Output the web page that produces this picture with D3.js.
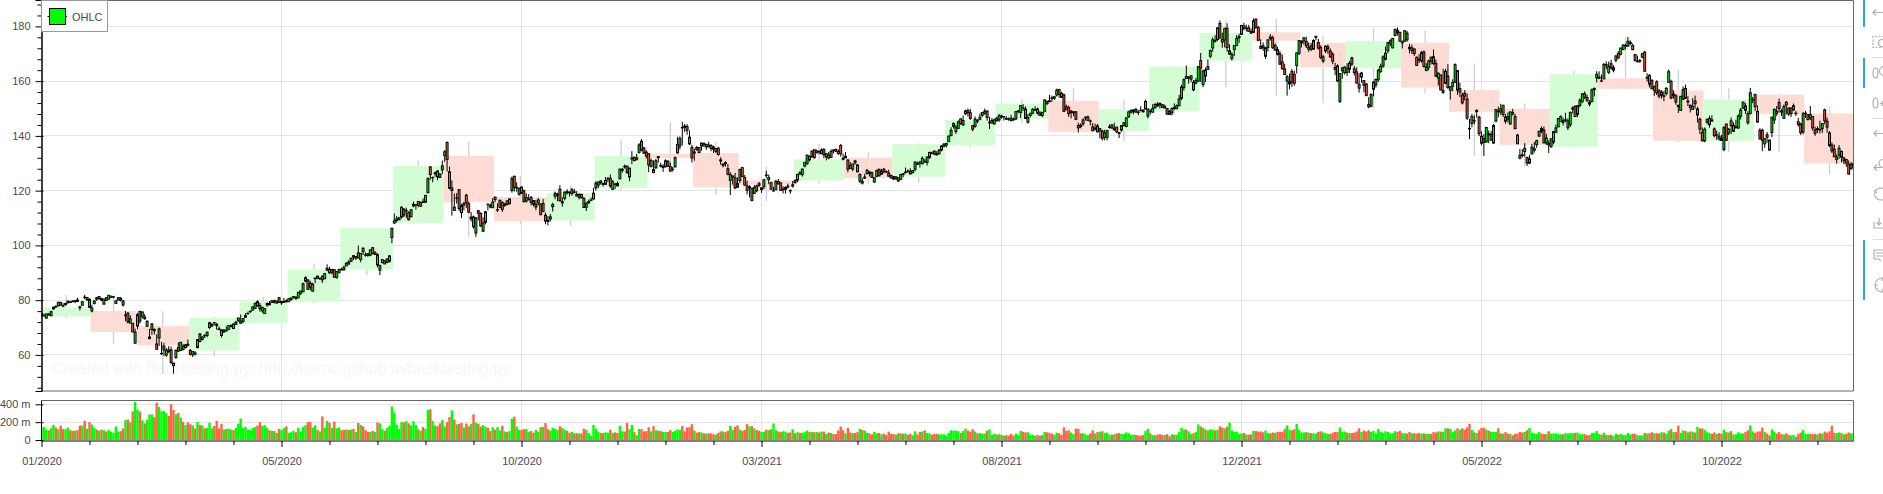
<!DOCTYPE html>
<html><head><meta charset="utf-8"><style>html,body{margin:0;padding:0;background:#fff;overflow:hidden}svg{display:block}text{font-family:"Liberation Sans",Arial,sans-serif}</style>
<script src="https://cdn.jsdelivr.net/npm/d3@7"></script></head><body><svg id="c" width="1883" height="494"></svg>
<script>
const legendLabel="OHLC";
const watermark="Created with Backtesting.py: http://kernc.github.io/backtesting.py";
const priceTicks=[60,80,100,120,140,160,180];
const volumeTicks=[0,200,400];
const dateTicks=[[0,"01/2020"],[100,"05/2020"],[200,"10/2020"],[300,"03/2021"],[400,"08/2021"],[500,"12/2021"],[600,"05/2022"],[700,"10/2022"]];
// last bar index of each period, and period open / close / high / low
const periodEnd=[20,39,61,82,102,124,146,167,188,210,230,252,271,290,313,334,354,376,397,419,440,461,482,504,524,543,566,586,607,628,648,671,692,713,734,755];
const periodOpen=[74.06,76.07,70.57,61.62,71.56,79.44,91.28,108.2,132.76,117.64,109.11,121.01,133.52,133.75,123.75,123.66,132.04,125.08,136.6,146.36,152.83,141.76,148.99,167.48,177.83,174.01,164.7,174.03,156.71,149.9,136.04,161.01,156.64,138.21,155.08,148.21];
const periodClose=[77.38,68.34,63.57,73.45,79.49,91.2,106.26,129.04,115.81,108.86,119.05,132.69,131.96,121.26,122.15,131.46,124.61,136.96,145.86,151.83,141.5,149.8,165.3,177.57,174.78,165.12,174.61,157.65,148.84,136.72,162.51,157.22,138.2,153.34,148.03,129.93];
const periodHigh=[81.9,81.9,76,73.9,81.2,93.1,106.4,131,138,125.3,122,138.6,145,137.8,128.8,137,134,137.2,150,153.4,157.3,153.2,165.5,182.2,182.8,176.7,179.5,178.5,166.4,151.8,163.7,175.9,164.2,157.3,155.4,150.8];
const periodLow=[73.4,64.2,53,59.3,71.6,79,89.1,108,103.1,107.6,107.3,120.1,126.8,118.3,116.1,122.5,122.3,123,135.8,144.5,141,138.1,147.5,157.8,154.6,152,150.1,155.4,132.7,129,135.6,157.1,137.8,134.1,134.1,125.9];
const closes=[
75.09,74.36,74.95,74.60,75.80,77.41,77.58,79.24,78.17,77.83,78.81,79.68,79.14,79.43,79.81,79.58,77.24,79.42,81.08,80.97,77.38,
77.17,79.71,80.36,81.30,80.01,80.39,79.90,81.80,81.22,81.24,79.75,80.90,80.07,78.26,74.54,72.02,73.16,68.38,68.34,
74.70,72.33,75.68,73.23,72.26,66.54,71.33,68.86,62.06,69.49,60.55,63.22,61.67,61.20,57.31,56.09,61.72,61.38,64.61,61.94,63.70,63.57,
60.23,61.23,60.35,65.62,64.86,66.52,67.00,68.31,71.76,71.11,71.67,70.70,69.23,67.09,69.03,68.76,70.74,70.79,69.64,71.93,73.45,
72.27,73.29,74.39,75.16,75.93,77.53,78.75,77.85,76.91,77.39,76.93,78.74,78.29,79.81,79.21,79.72,79.18,79.53,79.56,79.49,
80.46,80.83,81.28,80.56,82.88,83.36,86.00,88.21,83.97,84.70,85.75,88.02,87.90,87.93,87.43,89.72,91.63,90.01,91.21,88.41,90.44,91.20,
91.03,91.03,93.46,93.17,95.34,95.75,95.92,95.48,97.06,97.73,96.52,96.33,98.36,97.00,97.27,92.85,92.62,94.81,93.25,95.04,96.19,106.26,
108.94,109.67,110.06,113.90,111.11,112.73,109.38,113.01,115.01,114.91,114.61,115.56,115.71,118.28,124.37,125.86,124.83,126.52,125.01,124.81,129.04,
134.18,131.40,120.88,120.96,112.82,117.32,113.49,112.00,115.36,115.54,112.13,110.34,106.84,110.08,111.81,107.12,108.22,112.28,114.96,114.09,115.81,
116.79,113.02,116.50,113.16,115.08,114.97,116.97,124.40,121.10,121.19,120.71,119.02,115.98,117.51,116.87,115.75,115.04,115.05,116.60,111.20,115.32,108.86,
108.77,110.44,114.95,119.03,118.69,116.32,115.97,119.49,119.21,119.26,120.30,119.39,118.03,118.64,117.34,113.85,115.17,116.03,116.59,119.05,
122.72,123.08,122.94,122.25,123.75,124.38,121.78,123.24,122.41,121.78,127.88,127.81,128.70,126.66,128.23,131.88,130.96,131.97,136.69,134.87,133.72,132.69,
129.41,131.01,126.60,130.92,132.05,128.98,128.80,130.89,128.91,127.14,127.83,132.03,136.87,139.07,142.92,143.16,142.06,137.09,131.96,
134.14,134.99,133.94,137.39,136.76,136.91,136.01,135.39,135.13,135.37,133.19,130.84,129.71,129.87,126.00,125.86,125.35,120.99,121.26,
127.79,125.12,122.06,120.13,121.42,116.36,121.09,119.98,121.96,121.03,123.99,125.57,124.76,120.53,119.99,123.39,122.54,120.09,120.59,121.21,121.39,119.90,122.15,
123.00,125.90,126.21,127.90,130.36,133.00,131.24,134.43,132.03,134.50,134.16,134.84,133.11,133.50,131.94,134.32,134.72,134.39,133.58,133.48,131.46,
132.54,127.85,128.10,129.74,130.21,126.85,125.91,122.77,124.97,127.45,126.27,124.85,124.69,127.31,125.43,127.10,126.90,126.85,125.28,124.61,
124.28,125.06,123.54,125.89,125.90,126.74,127.13,126.11,127.35,130.48,129.64,130.15,131.79,130.46,132.30,133.98,133.70,133.41,133.11,134.78,136.33,136.96,
137.27,139.96,142.02,144.57,143.24,145.11,144.50,145.64,149.15,148.48,146.39,142.45,146.15,145.40,146.80,148.56,148.99,146.77,144.98,145.64,145.86,
145.52,147.36,146.95,147.06,146.14,146.09,145.60,145.86,148.89,149.10,151.12,150.19,146.36,146.70,148.19,149.71,149.62,148.36,147.54,148.60,153.12,151.83,
152.51,153.65,154.30,156.69,155.11,154.07,148.97,149.55,148.12,149.03,148.79,146.06,142.94,143.43,145.85,146.83,146.92,145.37,141.91,142.83,141.50,
142.65,139.14,141.11,142.00,143.29,142.90,142.81,141.51,140.91,143.76,144.84,146.55,148.76,149.26,149.48,148.69,148.64,149.32,148.85,152.57,149.80,
148.96,150.02,151.49,150.96,151.28,150.44,150.81,147.92,147.87,149.99,150.00,151.00,153.49,157.87,160.55,161.02,161.41,161.94,156.81,160.24,165.30,
164.77,163.76,161.84,165.32,171.18,175.08,174.56,179.45,175.74,174.33,179.30,172.26,171.14,169.75,172.99,175.64,176.28,180.33,179.29,179.38,178.20,177.57,
182.01,179.70,174.92,172.00,172.17,172.19,175.08,175.53,172.19,173.07,169.80,166.23,164.51,162.41,161.62,159.78,159.69,159.22,170.33,174.78,
174.61,175.84,172.90,172.39,171.66,174.83,176.28,172.12,168.64,168.88,172.79,172.55,168.88,167.30,164.32,160.07,162.74,164.85,165.12,
163.20,166.56,166.23,163.17,159.30,157.44,162.95,158.52,154.73,150.62,155.09,159.59,160.62,163.98,165.38,168.82,170.21,174.07,174.72,175.60,178.96,177.77,174.61,
174.31,178.44,175.06,171.83,172.14,170.09,165.75,167.66,170.40,165.29,165.07,167.40,167.23,166.42,161.79,162.88,156.80,156.57,163.64,157.65,
157.96,159.48,166.02,156.77,157.28,152.06,154.51,146.50,142.56,147.11,145.54,149.24,140.82,137.35,137.59,143.11,140.36,140.52,143.78,149.64,148.84,
148.71,151.21,145.38,146.14,148.71,147.96,142.64,137.13,131.88,132.76,135.43,130.06,131.56,135.87,135.35,138.27,141.66,141.66,137.44,139.23,136.72,
138.93,141.56,142.92,146.35,147.04,144.87,145.86,145.49,148.47,150.17,147.07,151.00,153.04,155.35,154.09,152.95,151.60,156.79,157.35,162.51,
161.51,160.01,166.13,165.81,165.35,164.87,164.92,169.24,168.49,172.10,173.19,173.03,174.55,174.15,171.52,167.57,167.23,167.53,170.03,163.62,161.38,158.91,157.22,
157.96,155.81,154.53,155.96,154.46,157.37,163.43,153.84,155.31,152.37,150.70,154.48,156.90,153.72,152.74,150.43,150.77,151.76,149.84,142.48,138.20,
142.45,146.10,146.40,145.43,140.09,140.42,138.98,138.34,142.99,138.38,142.41,143.75,143.86,143.39,147.27,149.45,152.34,149.35,144.80,155.74,153.34,
150.65,145.03,138.88,138.38,138.92,139.50,134.87,146.87,149.70,148.28,150.04,148.79,150.72,151.29,148.01,150.18,151.07,148.11,144.22,141.17,148.03,
148.31,147.81,146.63,142.91,140.94,142.65,142.16,144.49,145.47,143.21,136.50,134.51,132.37,132.30,135.45,132.23,131.86,130.03,126.04,129.61,129.93];
const opens=[
74.06,74.29,73.45,74.96,74.29,76.81,77.65,77.91,79.18,77.96,78.40,79.07,79.30,79.64,79.48,80.06,77.51,78.15,81.11,80.14,80.23,
76.07,78.83,80.88,80.64,80.59,78.54,80.90,80.37,81.05,81.18,78.84,80.00,80.66,79.65,74.32,75.24,71.63,71.56,64.32,
70.57,75.92,74.11,73.88,70.50,65.94,69.29,69.35,63.99,66.22,60.49,61.88,59.94,61.85,61.79,57.02,59.09,62.69,61.63,63.19,62.69,63.90,
61.62,60.09,60.70,62.72,67.70,65.68,67.18,67.08,70.00,70.60,71.85,71.17,69.49,69.07,68.40,68.97,69.30,70.45,71.27,71.18,72.49,
71.56,72.29,73.76,75.11,75.81,76.41,77.02,79.46,78.04,76.13,75.09,78.29,78.76,79.17,79.67,78.94,80.88,79.04,79.19,79.81,
79.44,80.19,81.17,81.10,80.84,82.56,83.04,86.97,87.33,86.18,83.31,87.86,88.79,87.85,88.66,87.83,91.00,91.25,90.18,91.10,88.31,90.02,
91.28,91.96,92.50,93.85,94.18,96.26,95.34,97.27,94.84,98.99,96.56,96.99,96.42,99.17,96.69,96.60,90.99,93.71,94.37,93.75,94.19,102.89,
108.20,109.13,109.38,110.41,113.21,112.60,111.97,110.50,114.43,114.83,116.06,114.35,115.98,115.75,119.26,128.70,124.70,126.18,127.14,126.01,127.58,
132.76,137.59,126.91,120.07,113.95,117.26,120.36,114.57,114.72,118.33,115.23,109.72,110.40,104.54,112.68,111.62,105.17,108.43,115.01,114.55,113.79,
117.64,112.89,113.91,115.70,114.62,116.25,115.28,120.06,125.27,121.00,118.72,121.28,119.96,116.20,116.67,117.45,116.39,114.01,115.49,115.05,112.37,111.06,
109.11,109.66,114.14,117.95,118.32,120.50,115.55,117.19,119.62,119.44,118.92,119.55,118.61,117.59,118.64,117.18,113.91,115.55,116.57,116.97,
121.01,122.02,123.52,122.60,122.31,124.37,124.53,120.50,122.43,122.60,124.34,127.41,128.90,128.96,125.02,131.61,132.16,131.32,133.99,138.05,135.58,134.08,
133.52,128.89,127.72,128.36,132.43,129.19,128.50,128.76,130.80,128.78,127.78,128.66,133.80,136.28,143.07,143.60,143.43,139.52,135.83,
133.75,135.73,135.76,136.30,137.35,136.03,136.62,136.48,135.90,134.35,135.49,131.25,129.20,130.24,128.01,123.76,124.94,124.68,122.59,
123.75,128.41,124.81,121.75,120.98,120.93,119.03,121.69,122.54,120.40,121.41,125.70,124.05,122.88,119.90,120.33,123.33,122.82,120.35,120.51,121.65,120.11,121.65,
123.66,123.87,126.50,125.83,128.95,129.80,132.52,132.44,134.94,133.82,134.30,133.51,135.02,132.36,133.04,132.16,134.83,135.01,134.31,136.47,131.78,
132.04,131.19,129.20,127.89,130.85,129.41,123.50,123.40,124.58,126.25,126.82,126.56,123.16,125.23,127.82,126.01,127.82,126.96,126.44,125.57,
125.08,124.28,124.68,124.07,126.17,126.60,127.21,127.02,126.53,127.82,129.94,130.37,129.80,130.71,130.30,132.13,133.77,134.45,133.46,133.41,134.80,136.17,
136.60,137.90,140.07,143.54,141.58,142.75,146.21,144.03,148.10,149.24,148.46,143.75,143.46,145.53,145.94,147.55,148.27,149.12,144.81,144.69,144.38,
146.36,145.81,147.27,146.98,146.35,146.20,146.44,146.05,146.19,148.97,148.54,150.23,149.80,145.03,147.44,148.31,149.45,149.81,148.35,147.48,149.00,152.66,
152.83,153.87,153.76,154.97,156.98,155.49,155.00,150.63,150.35,148.56,148.44,148.82,143.80,143.93,144.45,146.65,145.66,145.47,143.25,142.47,143.66,
141.90,141.76,139.49,139.47,143.06,144.03,142.27,143.23,141.24,142.11,143.77,143.45,147.01,148.70,148.81,149.69,148.68,149.33,149.36,149.82,147.22,
148.99,148.66,150.39,151.58,151.89,151.41,150.20,150.02,148.96,148.43,150.37,149.94,151.00,153.71,157.65,161.68,161.12,160.75,159.57,159.37,159.99,
167.48,158.74,164.02,164.29,169.08,172.13,174.91,175.21,181.12,175.25,175.11,179.28,169.93,168.28,171.56,173.04,175.85,177.09,180.16,179.33,179.47,178.09,
177.83,182.63,179.61,172.70,172.89,169.08,172.32,176.12,175.78,171.34,171.51,170.00,166.98,164.42,160.02,158.98,163.50,162.45,165.71,170.16,
174.01,174.75,174.48,171.68,172.86,171.73,176.05,174.14,172.33,167.37,170.97,171.85,171.03,169.82,164.98,165.54,152.58,163.84,163.06,
164.70,164.39,168.47,164.49,163.36,158.82,161.48,160.20,158.93,151.45,150.90,157.05,158.61,160.51,163.51,165.51,167.99,171.06,173.88,172.17,176.69,178.55,177.84,
174.03,174.57,177.50,172.36,171.16,171.78,168.71,168.02,167.39,170.62,163.92,165.02,168.76,168.91,166.46,161.12,162.25,155.91,159.25,161.84,
156.71,158.15,159.67,163.85,156.01,154.93,155.52,153.50,142.77,144.59,145.55,148.86,146.85,139.88,139.09,137.79,140.81,138.43,137.39,145.39,149.07,
149.90,147.83,146.90,147.03,144.35,148.58,147.08,140.28,132.87,133.13,134.29,132.08,130.07,133.42,134.79,136.82,139.90,142.70,142.13,137.46,137.25,
136.04,137.77,141.35,143.29,145.26,145.67,145.76,142.99,144.08,149.78,150.74,147.92,151.12,152.58,155.39,154.01,152.26,152.58,156.98,161.24,
161.01,160.10,160.84,166.01,163.21,166.37,164.02,167.68,170.06,169.82,171.52,172.78,172.77,173.75,173.03,169.69,167.08,167.32,168.78,170.57,161.15,162.13,160.31,
156.64,159.75,156.47,154.82,154.64,155.47,159.59,159.90,154.79,154.65,151.21,149.31,153.40,157.34,152.38,151.19,149.66,152.74,147.64,146.10,141.28,
138.21,145.03,144.07,145.81,142.54,140.42,139.90,139.13,134.99,144.31,141.07,145.49,141.69,143.02,142.87,147.19,150.09,150.96,148.07,148.20,153.16,
155.08,148.95,142.06,142.09,137.11,140.41,138.50,141.24,145.82,148.97,152.22,149.13,146.43,152.31,150.16,148.13,149.45,148.31,145.14,144.29,141.40,
148.21,145.96,147.77,147.07,142.19,142.36,142.34,142.70,149.50,145.35,141.11,136.69,135.11,131.39,132.98,134.35,130.92,131.38,129.67,127.99,128.41];
const highs=[
75.15,75.14,74.99,75.22,76.11,77.61,78.17,79.27,79.39,78.88,78.93,79.68,79.75,80.00,79.89,80.85,77.94,79.60,81.96,81.02,80.67,
78.37,79.91,81.19,81.31,80.85,80.39,80.98,81.81,81.81,81.50,79.94,81.14,81.16,80.11,76.04,75.63,74.47,70.50,69.60,
75.36,76.00,75.85,74.89,72.71,69.52,71.61,69.58,67.52,69.98,64.77,64.40,62.50,63.21,63.01,57.13,61.92,64.56,64.67,63.97,63.88,65.62,
62.18,61.29,61.43,65.78,67.93,66.84,67.52,68.43,72.06,71.58,71.74,71.74,70.42,69.31,69.47,70.44,70.75,71.14,71.46,72.42,73.63,
74.75,73.42,75.25,75.81,76.29,77.59,79.26,79.92,78.99,77.45,76.97,79.13,79.63,79.88,80.22,79.81,81.06,79.68,80.86,80.29,
80.59,80.86,81.55,81.40,82.94,83.40,86.40,88.69,87.76,87.07,86.42,88.30,88.85,88.36,89.14,89.86,93.10,92.20,91.25,91.33,90.54,91.50,
91.84,92.62,93.95,94.66,95.38,96.32,95.98,99.96,97.26,99.25,97.41,97.15,98.50,99.25,97.97,97.08,92.97,94.91,94.55,95.23,96.30,106.42,
111.64,110.79,110.39,114.41,113.68,113.78,112.48,113.28,116.04,115.00,116.09,116.00,117.16,118.39,124.87,128.79,125.18,126.99,127.49,126.44,131.00,
134.80,137.98,128.84,123.70,118.99,119.14,120.50,115.23,115.93,118.83,116.00,112.20,110.88,110.19,112.86,112.11,110.25,112.44,115.32,115.31,117.26,
117.72,115.37,116.65,116.12,115.55,116.40,117.00,125.18,125.39,123.03,121.20,121.55,120.42,118.98,118.71,118.04,116.55,116.55,117.28,115.43,116.93,111.99,
110.68,111.49,115.59,119.62,119.20,121.99,117.59,119.63,120.53,119.67,120.99,120.67,119.82,119.06,118.77,117.62,115.85,116.75,117.49,120.97,
123.47,123.37,123.78,122.86,124.98,124.98,125.95,123.87,122.76,123.35,127.90,128.37,129.58,129.10,128.31,134.41,132.43,133.46,137.34,138.79,135.99,134.74,
133.61,131.74,131.05,131.63,132.63,130.17,129.69,131.45,131.00,130.22,128.71,132.49,139.67,139.85,145.09,144.30,144.30,141.99,136.74,
135.38,136.31,135.77,137.40,137.42,136.96,137.88,136.99,136.39,135.53,136.01,132.22,130.00,130.71,129.72,126.71,125.56,126.46,124.85,
127.93,128.72,125.71,123.60,121.94,121.00,122.06,122.17,123.21,121.17,124.00,127.22,125.86,123.18,121.43,123.87,124.24,122.90,121.66,121.48,122.58,120.40,123.52,
124.18,126.16,127.13,127.92,130.39,133.04,132.85,134.66,135.00,135.00,134.67,135.47,135.53,133.75,134.15,135.12,135.06,135.41,135.02,137.07,133.56,
134.07,131.49,130.45,129.75,131.26,129.54,126.27,124.64,126.15,127.89,126.93,126.99,124.92,127.72,128.00,127.94,128.32,127.39,127.64,125.80,
125.35,125.24,124.85,126.16,126.32,128.46,127.75,128.19,127.44,130.54,130.60,130.89,132.55,131.51,132.41,134.08,134.32,134.64,134.43,135.25,136.49,137.41,
137.33,140.00,143.15,144.89,144.06,145.65,146.32,147.46,149.57,150.00,149.76,144.07,147.10,146.13,148.20,148.72,150.00,149.21,146.97,146.55,146.33,
146.95,148.04,147.79,147.11,147.11,146.70,147.71,146.72,149.05,149.44,151.19,151.68,150.72,148.00,148.50,150.19,150.86,150.32,149.12,148.75,153.49,152.80,
154.98,154.72,154.63,157.26,157.04,156.11,155.48,151.42,151.07,149.44,148.97,148.82,144.84,144.60,146.43,147.08,147.47,145.96,144.75,144.45,144.38,
142.92,142.21,142.24,142.15,144.22,144.18,144.81,143.25,141.40,143.88,144.90,146.84,149.17,149.75,149.64,150.18,149.37,150.84,149.73,153.17,149.94,
149.70,151.57,151.97,152.43,152.20,151.57,151.43,150.13,149.43,150.40,151.88,151.49,155.00,158.67,161.02,165.70,161.80,162.14,160.45,161.19,165.52,
170.30,164.20,164.96,167.88,171.58,175.96,176.75,179.63,182.13,177.74,179.50,181.14,173.47,170.58,173.20,176.85,177.30,180.42,181.33,180.63,180.57,179.23,
182.88,182.94,180.17,175.30,174.14,172.50,175.18,177.18,176.62,173.78,172.54,171.08,169.68,166.33,162.30,162.76,164.39,163.84,170.35,175.00,
174.84,175.88,176.24,174.10,173.95,175.35,176.65,175.48,173.08,169.58,172.95,173.34,171.91,170.54,166.69,166.15,162.85,165.12,165.42,
166.60,167.36,168.91,165.55,165.02,162.88,163.41,160.39,159.28,154.12,155.57,160.00,161.00,164.48,166.35,169.42,172.64,174.14,175.28,175.73,179.01,179.61,178.03,
174.88,178.49,178.30,173.63,173.36,171.78,169.03,169.87,171.04,171.27,166.60,167.82,168.88,171.53,167.88,163.17,162.34,164.52,164.52,166.20,
158.23,160.71,166.48,164.08,159.44,155.83,156.74,155.45,146.20,148.10,147.52,149.77,147.36,141.66,140.70,143.26,141.97,141.78,144.34,149.68,150.66,
151.74,151.27,147.97,148.57,149.00,149.87,147.95,140.76,135.20,135.20,137.34,132.39,133.08,137.06,137.76,138.59,141.91,143.49,143.42,140.67,138.37,
139.04,141.61,144.12,146.55,147.55,146.64,148.45,146.45,148.95,150.86,151.23,151.23,153.72,155.57,156.28,155.04,153.09,157.33,157.64,163.63,
163.59,162.41,166.59,167.19,167.19,167.81,165.82,169.34,170.99,172.17,173.39,173.71,176.15,174.90,173.74,169.86,169.34,168.11,170.14,171.05,162.90,162.56,160.58,
158.42,160.36,157.09,156.67,156.36,157.82,164.26,160.54,156.67,155.24,151.35,154.56,158.08,158.74,154.47,151.47,153.77,154.72,150.64,146.72,143.10,
143.07,146.22,147.38,147.54,143.10,141.89,141.35,140.36,143.59,144.52,142.90,146.70,144.95,145.89,147.85,150.23,152.49,151.99,149.05,157.50,154.24,
155.45,151.11,142.80,142.67,139.15,141.43,138.55,146.87,150.01,150.92,153.59,149.87,151.48,152.70,150.37,150.42,151.83,149.13,146.64,144.81,148.72,
149.13,148.00,150.92,147.30,143.37,143.52,145.57,144.50,149.97,146.66,141.79,137.65,136.81,133.25,136.63,134.56,132.42,131.41,131.03,130.48,129.95];
const lows=[
73.80,74.13,73.19,74.37,74.29,76.55,77.06,77.79,78.04,77.39,78.02,78.75,79.00,79.33,78.91,79.27,76.22,78.05,80.35,79.69,77.07,
75.56,78.41,79.74,80.07,79.60,78.46,79.85,80.37,80.84,80.71,78.65,80.00,79.55,77.63,72.31,71.53,71.63,68.24,64.09,
69.43,71.45,73.28,72.85,70.31,65.75,67.34,67.43,62.00,63.24,60.00,59.60,59.28,60.65,56.58,53.15,58.57,61.08,61.59,61.76,62.35,63.00,
59.78,59.22,59.74,62.35,64.75,65.31,66.18,66.46,69.51,70.16,70.78,69.21,69.21,66.36,68.05,68.75,69.25,69.99,69.55,70.97,72.09,
71.46,71.58,73.61,74.72,75.32,76.07,76.81,77.73,75.80,75.38,75.05,77.58,78.25,79.13,78.84,78.84,79.13,78.27,79.12,79.12,
79.30,79.73,80.58,80.19,80.81,81.83,83.00,86.52,83.87,83.56,83.15,86.18,87.77,87.39,86.29,87.79,90.57,89.63,89.39,88.25,87.82,90.00,
90.98,90.91,92.47,93.06,94.09,94.67,94.71,95.26,93.88,96.49,95.91,95.84,96.06,96.74,96.60,92.01,89.14,93.48,93.25,93.71,93.77,100.82,
107.89,108.39,109.25,109.80,110.29,110.00,109.11,110.30,113.93,113.05,113.96,114.01,115.61,115.73,119.25,123.94,123.05,125.08,123.83,124.58,126.00,
130.53,127.00,120.50,110.89,112.68,115.26,112.50,110.00,112.80,113.61,112.04,108.71,106.09,103.10,109.16,106.77,105.00,107.67,112.78,113.57,113.62,
115.83,112.22,113.55,112.25,114.13,114.59,114.92,119.28,119.65,119.62,118.15,118.81,115.66,115.63,116.45,114.59,114.28,112.88,114.54,111.10,112.20,107.72,
107.32,108.73,112.35,116.87,116.13,116.05,114.13,116.44,118.57,117.87,118.15,118.96,118.00,116.81,117.29,113.75,112.59,115.17,116.22,116.81,
120.01,120.89,122.21,121.52,122.25,123.09,121.00,120.15,120.55,121.54,124.13,126.56,128.04,126.12,123.45,129.65,130.78,131.10,133.51,134.34,133.40,131.72,
126.76,128.43,126.38,127.86,130.23,128.50,126.86,128.49,128.76,127.00,126.94,128.55,133.59,135.02,136.54,141.37,140.41,136.70,130.21,
130.93,134.61,133.61,134.59,135.86,134.92,135.85,134.40,133.77,133.69,132.79,129.47,128.49,128.80,125.60,118.39,122.23,120.54,121.20,
122.79,125.01,121.84,118.62,117.57,116.21,118.79,119.45,121.26,119.16,120.42,124.72,122.34,120.32,119.68,120.26,122.14,120.07,119.00,118.92,120.73,118.86,121.15,
122.49,123.07,125.65,125.14,128.52,129.47,130.63,131.93,131.66,133.64,133.28,133.34,131.81,131.07,131.41,131.93,133.56,134.11,133.08,132.45,131.07,
131.83,126.70,127.97,127.13,129.48,126.81,122.77,122.25,124.26,125.85,125.17,124.78,122.86,125.10,125.21,125.94,126.32,126.42,125.08,124.55,
123.94,124.05,123.13,123.85,124.83,126.21,126.52,125.94,126.42,127.07,129.39,128.46,129.65,130.24,129.21,131.62,133.23,132.93,132.81,133.35,134.35,135.87,
135.76,137.75,140.07,142.66,140.66,142.65,144.00,143.63,147.68,147.09,145.88,141.67,142.96,144.63,145.81,146.92,147.70,145.55,142.54,144.58,144.11,
145.25,145.18,146.28,145.63,145.81,145.52,145.30,145.53,145.84,148.27,146.47,149.09,146.15,144.50,146.78,147.89,149.15,147.80,147.51,146.83,148.61,151.29,
152.34,152.40,153.09,154.39,153.98,153.95,148.70,150.06,146.91,146.37,147.22,145.76,141.27,142.78,143.70,145.64,145.56,143.82,141.69,142.03,141.28,
139.11,138.27,138.36,138.37,142.72,142.56,141.81,141.04,139.20,141.51,143.51,143.16,146.55,148.12,147.87,148.64,147.62,149.01,148.49,149.72,146.41,
147.80,148.65,149.82,150.64,150.06,150.16,150.06,147.85,147.68,147.48,149.43,149.78,150.99,153.05,156.53,161.00,159.06,159.64,156.36,158.79,159.92,
159.72,157.80,159.72,164.28,168.34,170.70,174.10,174.69,175.53,172.21,172.31,170.75,169.69,167.46,169.12,172.75,173.98,177.07,178.53,178.14,178.09,177.26,
177.71,179.12,174.64,171.64,171.03,168.17,170.82,174.82,171.79,171.09,169.41,165.94,164.18,162.30,154.70,157.02,157.82,158.28,162.80,169.51,
172.31,173.33,172.12,170.68,170.95,171.43,174.90,171.55,168.04,166.56,170.25,170.05,168.47,166.19,162.15,159.75,152.00,160.87,162.43,
161.97,162.95,165.55,162.10,159.04,155.80,159.41,155.98,154.50,150.10,150.38,154.46,157.63,159.76,163.01,164.91,167.65,170.21,172.75,172.00,176.34,176.70,174.40,
171.94,174.44,174.42,170.13,169.85,169.20,165.50,166.64,166.77,165.04,163.57,163.92,166.10,165.91,161.50,158.46,156.72,155.38,158.93,157.25,
153.27,156.32,159.26,154.95,154.18,151.49,152.93,145.81,138.80,143.11,144.18,146.68,139.90,136.60,132.61,137.65,137.33,138.34,137.14,145.26,146.84,
147.68,146.86,144.46,144.90,144.10,147.46,142.53,137.06,131.44,132.16,132.41,129.04,129.81,133.32,133.91,135.63,139.77,140.97,137.32,136.67,133.77,
135.66,136.93,141.08,143.28,145.00,143.78,145.05,142.12,143.25,148.20,146.91,146.91,150.37,151.94,153.41,152.28,150.80,152.16,154.41,159.50,
160.89,159.63,160.75,164.43,162.56,164.20,163.25,166.90,168.19,169.40,171.35,171.66,172.57,173.12,171.31,167.14,166.90,166.65,168.35,163.56,159.82,157.72,157.14,
154.67,154.97,153.69,153.61,152.68,154.75,159.30,153.37,153.61,151.38,148.37,149.10,153.08,153.60,150.91,148.56,149.64,149.95,144.84,140.68,138.00,
137.69,144.26,143.01,145.22,139.45,138.57,138.22,138.16,134.37,138.19,140.27,140.61,141.50,142.65,142.65,146.00,150.10,148.04,144.13,147.82,151.92,
149.13,145.03,138.75,134.38,135.67,137.49,134.59,139.50,144.37,147.24,148.56,147.29,146.15,147.80,147.24,146.93,149.34,147.33,143.38,140.35,140.55,
146.61,145.65,145.77,141.92,140.01,141.10,140.90,141.06,144.24,141.16,135.91,133.73,132.42,129.89,131.59,130.30,129.64,128.72,125.87,127.73,127.43];
const volumes=[
135,146,118,108,132,170,140,121,161,122,121,138,110,102,105,110,161,162,216,127,200,
173,136,118,105,117,110,94,113,94,80,152,94,100,129,223,230,198,320,426,
341,319,220,187,226,286,285,256,418,370,322,324,300,271,401,336,287,303,252,205,167,197,
176,165,129,201,168,162,131,133,194,131,157,215,131,180,117,125,126,117,112,137,183,
241,134,147,116,115,134,145,163,200,158,166,136,111,102,102,81,125,112,133,153,
81,87,104,87,137,95,147,166,201,200,138,165,114,96,264,136,213,192,137,205,131,140,
110,114,118,112,117,125,90,191,170,153,110,92,90,103,89,197,186,121,104,133,158,375,
308,173,121,202,198,212,187,165,210,165,119,105,145,126,338,345,211,163,155,187,225,
152,200,257,332,231,176,180,191,140,184,154,178,287,195,183,150,167,149,137,99,142,
116,144,106,161,96,88,100,240,262,151,112,115,121,124,89,101,82,111,92,143,146,190,
122,107,138,126,114,154,138,112,103,81,91,74,76,74,73,127,113,76,46,169,
127,89,79,78,86,82,115,81,86,79,157,98,94,192,121,169,88,54,124,121,96,99,
143,97,155,109,105,100,91,88,90,111,90,104,120,114,157,98,141,143,177,
106,83,89,84,75,71,76,73,64,60,80,98,96,87,103,158,111,149,164,
116,103,112,178,153,155,129,111,103,88,92,115,111,121,185,111,95,88,98,94,80,85,118,
75,88,80,83,88,106,91,91,87,89,84,94,94,68,84,78,66,66,107,151,110,
75,137,84,78,78,88,126,112,105,81,74,63,92,76,79,63,72,56,94,71,
67,59,76,75,71,74,56,71,53,97,62,91,96,108,79,74,60,68,70,62,64,63,
52,78,108,104,106,99,77,100,127,106,94,121,96,74,77,71,72,105,118,56,70,
62,64,56,46,54,48,69,48,72,59,103,92,86,86,60,60,48,58,48,56,90,86,
80,71,57,82,75,57,141,102,109,84,68,129,124,75,76,64,53,74,108,74,89,
94,98,80,83,61,58,65,73,78,68,67,85,76,58,61,58,51,50,56,100,124,
74,54,54,60,66,55,56,65,41,63,59,59,88,137,117,117,96,69,76,88,174,
152,137,118,107,120,117,108,115,153,139,131,150,195,107,92,93,69,74,79,62,59,64,
104,99,95,96,86,106,77,74,84,81,92,91,91,122,163,115,108,121,179,115,
86,84,89,82,77,74,71,90,98,86,77,67,69,82,91,90,141,91,95,
83,79,76,83,96,131,91,105,96,108,92,102,75,123,95,81,98,90,74,77,100,92,103,
78,77,73,89,77,76,72,79,70,75,69,67,67,88,85,96,95,88,131,131,
123,88,108,131,116,131,116,142,182,113,86,78,109,136,137,117,104,92,90,90,131,
74,72,88,71,67,53,70,71,91,84,91,109,134,82,73,72,89,71,67,66,98,
71,73,74,66,65,64,77,71,78,76,81,82,64,65,66,53,55,78,82,101,
67,59,82,55,57,60,44,70,58,68,55,56,79,62,70,70,53,51,51,78,73,77,87,
74,77,73,87,84,68,105,122,88,91,162,81,107,101,86,96,93,84,147,129,129,
114,87,79,68,85,67,77,71,113,88,85,99,61,64,86,75,74,88,109,164,97,
80,93,97,140,90,73,52,118,93,73,89,65,62,74,58,51,58,35,69,83,111,
71,65,69,64,69,62,76,70,94,82,98,160,79,77,85,77,63,69,85,75,77];

[opens,highs,lows,closes,volumes].forEach((a,i)=>{if(a.length!==756)throw new Error("array "+i+" has "+a.length)});
const bars=d3.range(756).map(i=>({i,o:opens[i],h:highs[i],l:lows[i],c:closes[i],v:volumes[i]}));
const periods=periodEnd.map((e,k)=>({a:k?periodEnd[k-1]+.5:0,b:e+.5,o:periodOpen[k],c:periodClose[k],h:periodHigh[k],l:periodLow[k]}));

const L=41.5,R=1853.5,T=.5,B=391,VT=400.5,VB=441;
const BULL="#00ff00",BEAR="#ff6347",TXT="#4a4a4a",GRID="#e5e5e5",FRAME="#666";
const svg=d3.select("#c");
const x=d3.scaleLinear().domain([0,755]).range([L,R]);
const y=d3.scaleLinear().domain([46.82,189.64]).range([391,0]);
const vy=d3.scaleLinear().domain([0,400]).range([440,404.3]);
const bw=x(1)-x(0);
const snap=v=>Math.floor(v)+.5;

const defs=svg.append("defs");
defs.append("clipPath").attr("id","pm").append("rect").attr("x",L).attr("y",T).attr("width",R-L).attr("height",B-T);
defs.append("clipPath").attr("id","pv").append("rect").attr("x",L).attr("y",VT).attr("width",R-L).attr("height",VB-VT);

// grids
const g=svg.append("g").attr("stroke",GRID).attr("stroke-width",1);
g.selectAll(".gy").data(priceTicks).join("line").attr("x1",L).attr("x2",R).attr("y1",d=>snap(y(d))).attr("y2",d=>snap(y(d)));
g.selectAll(".gv").data(volumeTicks.slice(1)).join("line").attr("x1",L).attr("x2",R).attr("y1",d=>snap(vy(d))).attr("y2",d=>snap(vy(d)));
g.selectAll(".gx").data(dateTicks.slice(1)).join("line").attr("x1",d=>x(d[0])).attr("x2",d=>x(d[0])).attr("y1",T).attr("y2",B);
g.selectAll(".gx2").data(dateTicks.slice(1)).join("line").attr("x1",d=>x(d[0])).attr("x2",d=>x(d[0])).attr("y1",VT).attr("y2",VB);

// watermark
svg.append("text").attr("x",52).attr("y",374).attr("font-size",16).attr("fill","#f6f6f6").text(watermark);

// main panel marks
const m=svg.append("g").attr("clip-path","url(#pm)");
m.selectAll(".pw").data(periods).join("line").attr("x1",d=>x((d.a+d.b)/2)).attr("x2",d=>x((d.a+d.b)/2))
 .attr("y1",d=>y(d.h)).attr("y2",d=>y(d.l)).attr("stroke","#cfcfcf").attr("stroke-width",1.3);
m.selectAll(".pr").data(periods).join("rect").attr("x",d=>x(d.a)).attr("width",d=>x(d.b)-x(d.a))
 .attr("y",d=>y(Math.max(d.o,d.c))).attr("height",d=>Math.abs(y(d.o)-y(d.c)))
 .attr("fill",d=>d.c>=d.o?"#d5fdd5":"#fddcd6");
m.selectAll(".w").data(bars).join("line").attr("x1",d=>x(d.i)).attr("x2",d=>x(d.i)).attr("y1",d=>y(d.h)).attr("y2",d=>y(d.l)).attr("stroke","#000").attr("stroke-width",1);
m.selectAll(".b").data(bars).join("rect").attr("x",d=>x(d.i)-bw*.4).attr("width",bw*.8)
 .attr("y",d=>y(Math.max(d.o,d.c))).attr("height",d=>Math.max(.3,Math.abs(y(d.o)-y(d.c))))
 .attr("fill",d=>d.c>=d.o?BULL:BEAR).attr("stroke","#000").attr("stroke-width",1);

// volume panel marks
const vp=svg.append("g").attr("clip-path","url(#pv)");
vp.selectAll("rect").data(bars).join("rect").attr("x",d=>x(d.i)-bw*.5).attr("width",bw)
 .attr("y",d=>vy(d.v)).attr("height",d=>vy(0)-vy(d.v)).attr("fill",d=>d.c>=d.o?BULL:BEAR);

// frames
const fr=svg.append("g").attr("fill","none").attr("stroke",FRAME).attr("stroke-width",1);
fr.append("path").attr("d",`M${L},${T}H${R}V${B}H${L}`);
fr.append("path").attr("d",`M${L},${VT}H${R}V${VB}`);

// axes
function styleAxis(s){s.selectAll(".domain").attr("stroke","#000");s.selectAll("line").attr("stroke","#000");
 s.selectAll("text").attr("fill",TXT).attr("font-size",11).style("font-family",'"Liberation Sans",Arial,sans-serif');}
const minorTicks=d3.range(48,190,4).filter(v=>v%20!==0);
svg.append("g").attr("transform",`translate(${L},0)`).call(d3.axisLeft(y).tickValues(minorTicks).tickSize(4).tickFormat("")).call(styleAxis).call(s=>s.selectAll(".tick line").attr("x2",-4));
svg.append("g").attr("transform",`translate(${L},0)`).call(d3.axisLeft(y).tickValues(priceTicks).tickSize(6).tickPadding(5)).call(styleAxis).call(s=>s.selectAll(".tick line").attr("x1",2));
svg.append("g").attr("transform",`translate(${L},0)`).call(d3.axisLeft(vy).tickValues(volumeTicks).tickSize(6).tickPadding(5).tickFormat(d=>d?d+" m":"0")).call(styleAxis).call(s=>s.selectAll(".domain").remove()).call(s=>s.selectAll(".tick line").attr("x1",2));
svg.append("line").attr("x1",L).attr("x2",L).attr("y1",VT).attr("y2",VB).attr("stroke","#000");
const minorX=d3.range(0,756,20).filter(v=>v%100!==0);
svg.append("g").attr("transform",`translate(0,${VB})`).call(d3.axisBottom(x).tickValues(minorX).tickSize(4).tickFormat("")).call(styleAxis).call(s=>s.selectAll(".domain").attr("d",`M${L},0H${R}`));
svg.append("g").attr("transform",`translate(0,${VB})`).call(d3.axisBottom(x).tickValues(dateTicks.map(d=>d[0])).tickSize(6).tickPadding(10).tickFormat(d=>dateTicks.find(t=>t[0]===d)[1])).call(styleAxis).call(s=>s.selectAll(".domain").remove());

// legend
const lg=svg.append("g");
lg.append("rect").attr("x",41.5).attr("y",.5).attr("width",66).attr("height",31).attr("fill","#fff").attr("stroke","#999");
lg.append("line").attr("x1",47.5).attr("x2",67).attr("y1",16.5).attr("y2",16.5).attr("stroke","#000");
lg.append("rect").attr("x",49.5).attr("y",8.5).attr("width",16).attr("height",16).attr("fill",BULL).attr("stroke","#000");
lg.append("text").attr("x",72).attr("y",20.5).attr("font-size",11).attr("fill",TXT).text(legendLabel);

// toolbar
const tb=svg.append("g");
[[0,27],[58,88],[240,300]].forEach(s=>tb.append("rect").attr("x",1863).attr("y",s[0]).attr("width",2).attr("height",s[1]-s[0]).attr("fill","#26aae1"));
[57.5,118.5,239.5].forEach(v=>tb.append("line").attr("x1",1873).attr("x2",1883).attr("y1",v).attr("y2",v).attr("stroke","#ddd"));
const ic=tb.append("g").attr("fill","none").attr("stroke","#b0b0b0").attr("stroke-width",1.2);
ic.append("path").attr("d","M1873,12.5H1884M1876,9.5L1873,12.5L1876,15.5");
ic.append("path").attr("d","M1884,36.5H1873V47.5H1884").attr("stroke-dasharray","2 1.5");
ic.append("circle").attr("cx",1882).attr("cy",43).attr("r",3.5);
ic.append("ellipse").attr("cx",1875.5).attr("cy",73).attr("rx",2.5).attr("ry",5);
ic.append("circle").attr("cx",1884).attr("cy",71).attr("r",4.5);
ic.append("ellipse").attr("cx",1875.5).attr("cy",103).attr("rx",2.5).attr("ry",5);
ic.append("path").attr("d","M1880,103.5H1884M1882,101V106");
ic.append("path").attr("d","M1884,133.5H1874M1877,130.5L1874,133.5L1877,136.5");
ic.append("path").attr("d","M1883,159.5A4,4 0 0 0 1883,167.5H1874M1877,164.5L1874,167.5L1877,170.5");
ic.append("path").attr("d","M1884,189A6,6 0 1 0 1884,199M1874,190L1877,193");
ic.append("path").attr("d","M1874,222V228H1884M1879,218V225M1876.5,222.5L1879,225L1881.5,222.5");
ic.append("path").attr("d","M1884,250H1874V259H1879L1881,261M1876,253H1884M1876,256H1884");
ic.append("circle").attr("cx",1882).attr("cy",285).attr("r",7);
ic.append("path").attr("d","M1875,285H1878M1882,278V281M1882,289V292");
</script></body></html>
